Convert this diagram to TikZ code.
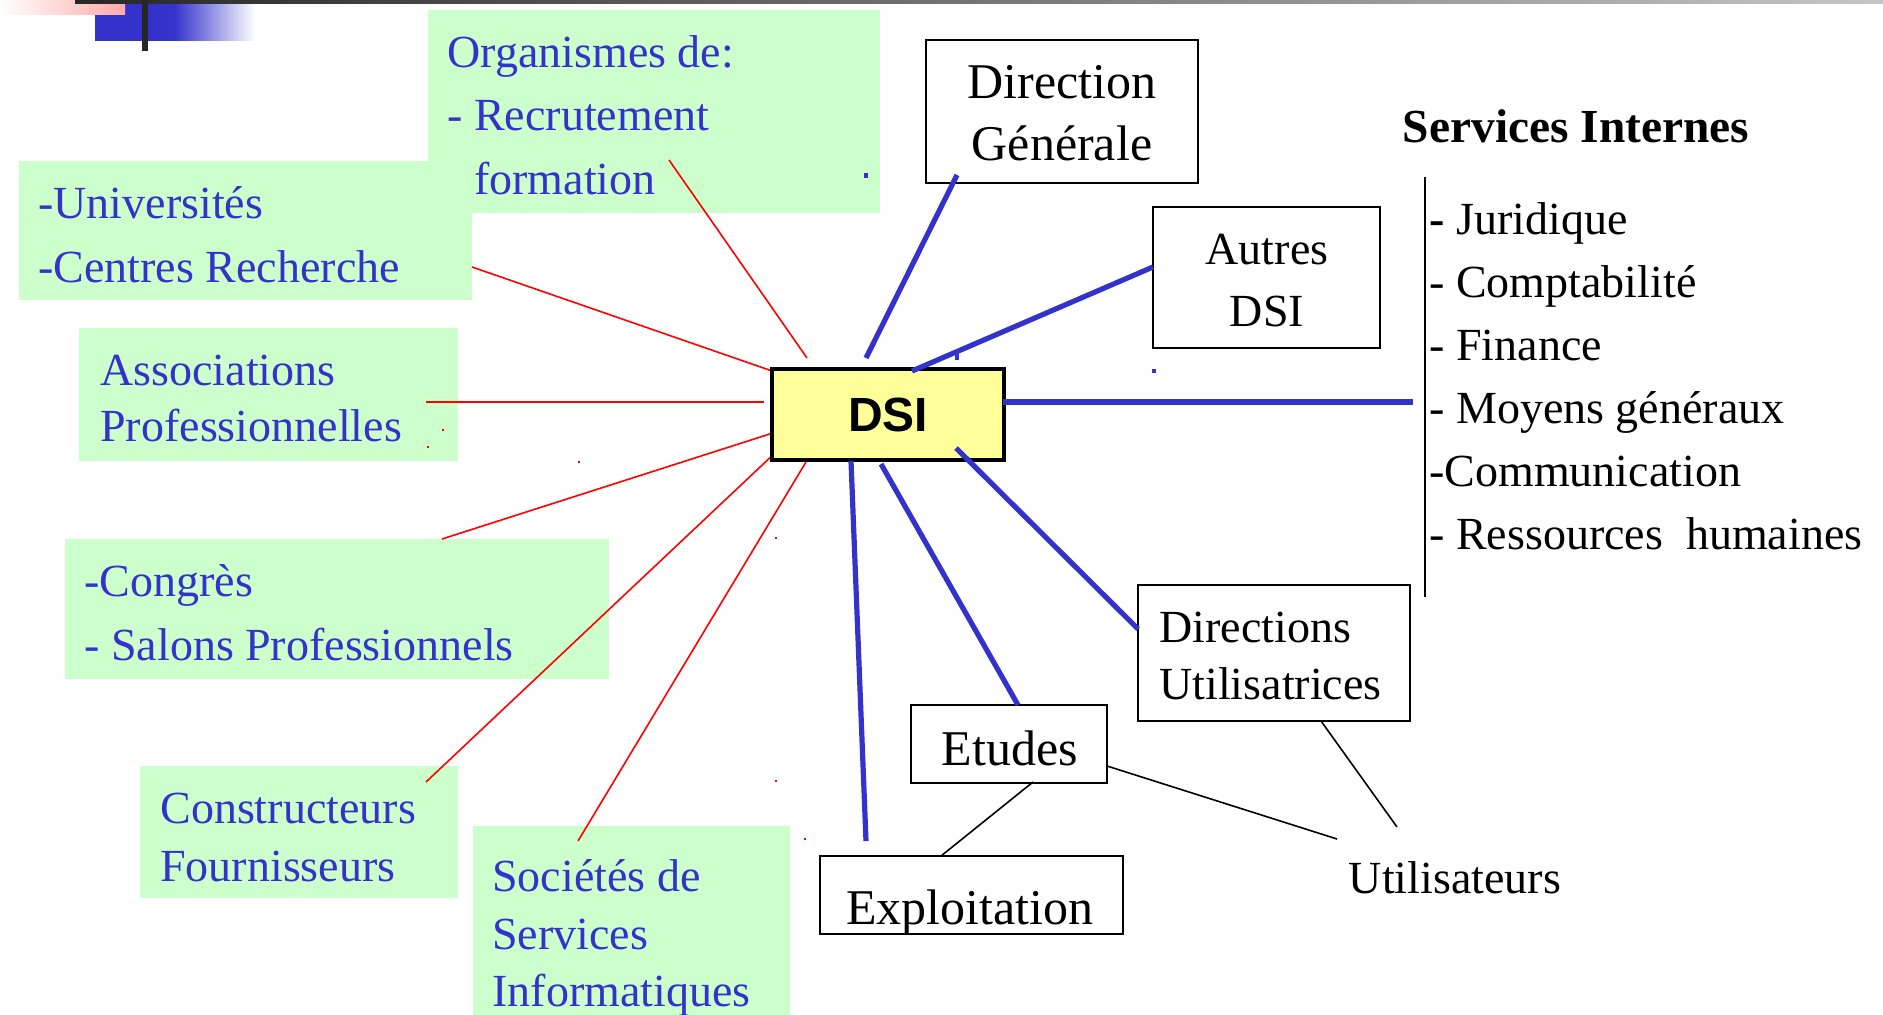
\documentclass[tikz,border=0pt]{standalone}
\usepackage{fontspec}
\setmainfont{Liberation Serif}
\newfontfamily\dsifont{Liberation Sans}
\definecolor{bl}{HTML}{3333CC}
\definecolor{gr}{HTML}{CCFFCC}
\definecolor{yl}{HTML}{FFFF99}
\definecolor{pk}{RGB}{255,170,170}
\tikzset{
  greenbox/.style={fill=gr, draw=none, inner sep=0pt},
  blackbox/.style={fill=white, draw=black, line width=1pt, inner sep=0pt},
  bluetxt/.style={text=bl, inner sep=0pt, anchor=west, align=left},
  blacktxt/.style={text=black, inner sep=0pt},
  redline/.style={draw=red, line width=0.8pt},
  blueline/.style={draw=bl, line width=2.6pt},
  thinline/.style={draw=black, line width=0.8pt},
}
\begin{document}
\begin{tikzpicture}[x=0.5pt,y=-0.5pt]
\useasboundingbox (0,0) rectangle (1883,1015);
% top decoration
\fill[bl] (95,3) rectangle (175,41);
\shade[left color=bl, right color=white] (174,3) rectangle (255,41);
\shade[left color=white, right color=pk] (0,0) rectangle (125,15);
\shade[left color=black!85, right color=gray!45] (75,0) rectangle (1883,3.5);
\fill[black!85] (142,0) rectangle (148,51);

% green boxes
\node[greenbox, minimum width=226pt, minimum height=101.5pt] (org) at (654,111.5) {};
\node[greenbox, minimum width=226.5pt, minimum height=69.5pt] (univ) at (245.5,230.5) {};
\node[greenbox, minimum width=189.5pt, minimum height=66.5pt] (assoc) at (268.5,394.5) {};
\node[greenbox, minimum width=272pt, minimum height=70pt] (congres) at (337,609) {};
\node[greenbox, minimum width=159pt, minimum height=66pt] (constr) at (299,832) {};
\node[greenbox, minimum width=158.5pt, minimum height=94.5pt] (soc) at (631.5,920.5) {};

% green box texts
\node[bluetxt, font=\fontsize{23}{31.75}\selectfont] (orgt) at (447,115) {Organismes de:\\- Recrutement\\\phantom{- }formation};
\node[bluetxt, font=\fontsize{23}{32}\selectfont] (univt) at (38,235) {-Universités\\-Centres Recherche};
\node[bluetxt, font=\fontsize{23}{28}\selectfont] (assoct) at (100,398) {Associations\\Professionnelles};
\node[bluetxt, font=\fontsize{23}{32}\selectfont] (congrest) at (84,613) {-Congrès\\- Salons Professionnels};
\node[bluetxt, font=\fontsize{23}{29}\selectfont] (constrt) at (160,837) {Constructeurs\\Fournisseurs};
\node[bluetxt, font=\fontsize{23}{28.75}\selectfont] (soct) at (492,938) {Sociétés de\\Services\\Informatiques};

% black boxes
\node[blackbox, minimum width=136pt, minimum height=71.5pt] (dg) at (1062,111.5) {};
\node[blackbox, minimum width=113.5pt, minimum height=70.5pt] (autres) at (1266.5,277.5) {};
\node[blackbox, minimum width=136pt, minimum height=68pt] (du) at (1274,653) {};
\node[blackbox, minimum width=98pt, minimum height=39pt] (etudes) at (1009,744) {};
\node[blackbox, minimum width=151.5pt, minimum height=39pt] (expl) at (971.5,895) {};

\node[blacktxt, align=center, font=\fontsize{25}{31}\selectfont] (dgt) at (1062,113) {Direction\\Générale};
\node[blacktxt, align=center, font=\fontsize{23}{31}\selectfont] (autrest) at (1267,281) {Autres\\DSI};
\node[blacktxt, align=left, anchor=west, font=\fontsize{23}{28.5}\selectfont] (dut) at (1159,655.5) {Directions\\Utilisatrices};
\node[blacktxt, font=\fontsize{25}{30}\selectfont] (etudest) at (1010,748) {Etudes};
\node[blacktxt, font=\fontsize{25}{30}\selectfont] (explt) at (970,912) {Exploitation};
\node[blacktxt, font=\fontsize{23}{30}\selectfont] (util) at (1455,878) {Utilisateurs};

% Services internes
\node[blacktxt, font=\fontsize{23.7}{30}\selectfont\bfseries] (si) at (1576,126) {Services Internes};
\node[blacktxt, anchor=west, align=left, font=\fontsize{23}{31.5}\selectfont] (list) at (1429,376) {\textbf{-} Juridique\\- Comptabilité\\- Finance\\- Moyens généraux\\-Communication\\- Ressources\ \ humaines};
\coordinate (vt) at (1425,177);
\coordinate (vb) at (1425,597);
\draw[black, line width=0.8pt] (vt) -- (vb);

% red connectors
\coordinate (r1a) at (669,160); \coordinate (r1b) at (807,358);
\coordinate (r2a) at (472,267); \coordinate (r2b) at (775,372);
\coordinate (r3a) at (426,402); \coordinate (r3b) at (764,402);
\coordinate (r4a) at (442,539); \coordinate (r4b) at (776,432);
\coordinate (r5a) at (426,782); \coordinate (r5b) at (776,452);
\coordinate (r6a) at (578,841); \coordinate (r6b) at (806,462);
\draw[redline] (r1a) -- (r1b);
\draw[redline] (r2a) -- (r2b);
\draw[redline] (r3a) -- (r3b);
\draw[redline] (r4a) -- (r4b);
\draw[redline] (r5a) -- (r5b);
\draw[redline] (r6a) -- (r6b);

% DSI box
\node[fill=yl, draw=black, line width=1.6pt, minimum width=116pt, minimum height=45.5pt, inner sep=0pt,
      font=\dsifont\fontsize{24}{28}\selectfont\bfseries] (dsi) at (888,414.5) {DSI};

% blue connectors
\coordinate (b1a) at (957,175); \coordinate (b1b) at (866,358);
\coordinate (b2a) at (1153,267); \coordinate (b2b) at (912,371);
\coordinate (b3a) at (1003,402); \coordinate (b3b) at (1413,402);
\coordinate (b4a) at (956,448); \coordinate (b4b) at (1138,629);
\coordinate (b5a) at (881,464); \coordinate (b5b) at (1018,705);
\coordinate (b6a) at (851,461); \coordinate (b6b) at (866,841);
\draw[blueline] (b1a) -- (b1b);
\draw[blueline] (b2a) -- (b2b);
\draw[blueline] (b3a) -- (b3b);
\draw[blueline] (b4a) -- (b4b);
\draw[blueline] (b5a) -- (b5b);
\draw[blueline] (b6a) -- (b6b);

% black thin connectors
\coordinate (k1a) at (1033,782); \coordinate (k1b) at (941,856);
\coordinate (k2a) at (1107,766); \coordinate (k2b) at (1337,839);
\coordinate (k3a) at (1321,721); \coordinate (k3b) at (1397,827);
\draw[thinline] (k1a) -- (k1b);
\draw[thinline] (k2a) -- (k2b);
\draw[thinline] (k3a) -- (k3b);

% stray dots
\fill[bl] (864,173) rectangle (868,178);
\fill[bl] (955,354) rectangle (959,360);
\fill[bl] (1152,369) rectangle (1156,373);
\fill[red] (442,429) rectangle (444,431);
\fill[red] (427,446) rectangle (429,448);
\fill[red] (578,461) rectangle (580,463);
\fill[red] (775,537) rectangle (777,539);
\fill[red] (775,780) rectangle (777,782);
\fill[red] (804,838) rectangle (806,840);
\end{tikzpicture}
\end{document}
